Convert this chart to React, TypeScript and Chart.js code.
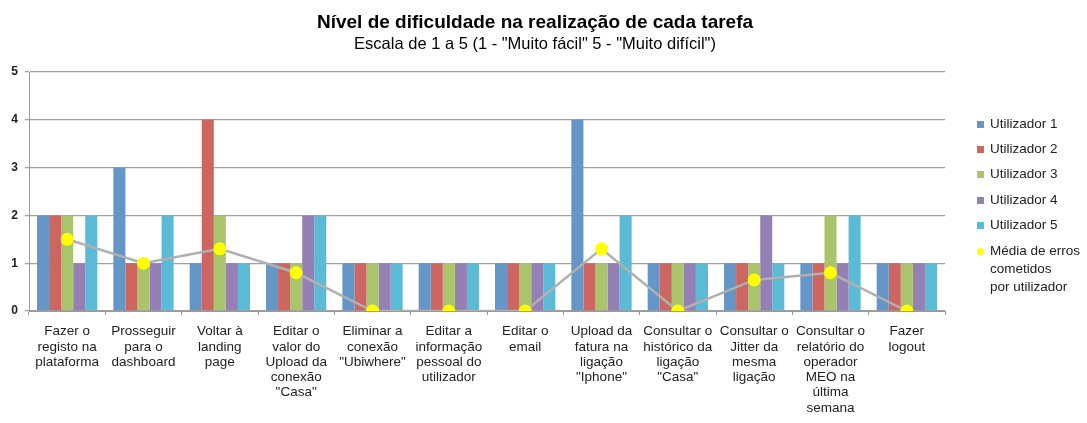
import React, { useEffect, useRef } from "react";
import { Chart, registerables } from "chart.js";

Chart.register(...registerables);

const categories: string[][] = [
  ["Fazer o", "registo na", "plataforma"],
  ["Prosseguir", "para o", "dashboard"],
  ["Voltar à", "landing", "page"],
  ["Editar o", "valor do", "Upload da", "conexão", "\"Casa\""],
  ["Eliminar a", "conexão", "\"Ubiwhere\""],
  ["Editar a", "informação", "pessoal do", "utilizador"],
  ["Editar o", "email"],
  ["Upload da", "fatura na", "ligação", "\"Iphone\""],
  ["Consultar o", "histórico da", "ligação", "\"Casa\""],
  ["Consultar o", "Jitter da", "mesma", "ligação"],
  ["Consultar o", "relatório do", "operador", "MEO na", "última", "semana"],
  ["Fazer", "logout"],
];

const utilizador1 = [2, 3, 1, 1, 1, 1, 1, 4, 1, 1, 1, 1];
const utilizador2 = [2, 1, 4, 1, 1, 1, 1, 1, 1, 1, 1, 1];
const utilizador3 = [2, 1, 2, 1, 1, 1, 1, 1, 1, 1, 2, 1];
const utilizador4 = [1, 1, 1, 2, 1, 1, 1, 1, 1, 2, 1, 1];
const utilizador5 = [2, 2, 1, 2, 1, 1, 1, 2, 1, 1, 2, 1];
const mediaErros = [1.5, 1.0, 1.3, 0.8, 0, 0, 0, 1.3, 0, 0.65, 0.8, 0];

const yTicks = [0, 1, 2, 3, 4, 5];

const seriesNames = ["Utilizador 1", "Utilizador 2", "Utilizador 3", "Utilizador 4", "Utilizador 5"];
const seriesColors = ["#6496C8", "#CD6660", "#A9C46B", "#9580B5", "#5BBAD5"];
const lineName = "Média de erros\ncometidos\npor utilizador";

const FONT = "'Liberation Sans', Arial, sans-serif";

export default function App() {
  const ref = useRef<HTMLCanvasElement | null>(null);

  useEffect(() => {
    if (!ref.current) return;
    const barData = [utilizador1, utilizador2, utilizador3, utilizador4, utilizador5];
    const chart = new Chart(ref.current, {
      type: "bar",
      data: {
        labels: categories,
        datasets: [
          {
            type: "line",
            label: lineName,
            data: mediaErros,
            borderColor: "#B0B0B0",
            borderWidth: 2.5,
            pointBackgroundColor: "#FFFF00",
            pointBorderColor: "#FFFF00",
            pointBorderWidth: 0,
            pointRadius: 6.5,
            tension: 0,
            order: 0,
          } as any,
          ...barData.map((d, i) => ({
            type: "bar" as const,
            label: seriesNames[i],
            data: d,
            backgroundColor: seriesColors[i],
            borderWidth: 0,
            categoryPercentage: 0.79,
            barPercentage: 1.0,
            order: 1,
          })),
        ],
      },
      options: {
        responsive: false,
        animation: false,
        layout: { padding: { top: 72, right: 142, left: 0, bottom: 0 } },
        plugins: {
          legend: { display: false },
          title: { display: false },
          tooltip: { enabled: false },
        },
        scales: {
          x: {
            grid: {
              display: true,
              drawOnChartArea: false,
              drawTicks: true,
              tickLength: 4,
              color: "#999999",
              offset: true,
            },
            border: { color: "#999999", width: 1 },
            ticks: {
              autoSkip: false,
              maxRotation: 0,
              minRotation: 0,
              padding: 9,
              color: "#222222",
              font: { family: FONT, size: 13.5, lineHeight: 1.13 },
            },
            afterFit: (scale: any) => {
              scale.height = 112;
            },
          },
          y: {
            min: 0,
            max: 5,
            afterBuildTicks: (scale: any) => {
              scale.ticks = yTicks.map((v) => ({ value: v }));
            },
            grid: {
              color: "#A0A0A0",
              lineWidth: 1.3,
              tickLength: 4,
            },
            border: { color: "#999999", width: 1 },
            ticks: {
              padding: 7,
              color: "#222222",
              font: { family: FONT, size: 12, weight: "bold" },
            },
            afterFit: (scale: any) => {
              scale.width = 29;
            },
          },
        },
      },
    });
    return () => chart.destroy();
  }, []);

  const legendRows = [
    { name: "Utilizador 1", color: seriesColors[0], top: 115 },
    { name: "Utilizador 2", color: seriesColors[1], top: 140 },
    { name: "Utilizador 3", color: seriesColors[2], top: 165 },
    { name: "Utilizador 4", color: seriesColors[3], top: 191 },
    { name: "Utilizador 5", color: seriesColors[4], top: 216 },
  ];

  return (
    <div style={{ position: "absolute", left: 0, top: 0, width: 1087, height: 423, background: "#fff", fontFamily: FONT }}>
      <canvas ref={ref} width={1087} height={423} style={{ position: "absolute", left: 0, top: 0 }} />
      <div style={{ position: "absolute", left: 185, width: 700, top: 11, textAlign: "center", fontWeight: "bold", fontSize: 19, lineHeight: "22px", color: "#000" }}>
        Nível de dificuldade na realização de cada tarefa
      </div>
      <div style={{ position: "absolute", left: 185, width: 700, top: 33, textAlign: "center", fontSize: 16.5, lineHeight: "20px", color: "#000" }}>
        Escala de 1 a 5 (1 - "Muito fácil" 5 - "Muito difícil")
      </div>
      {legendRows.map((r) => (
        <div key={r.name} style={{ position: "absolute", left: 977, top: r.top, fontSize: 13.5, lineHeight: "18px", color: "#222", display: "flex", alignItems: "center" }}>
          <span style={{ display: "inline-block", width: 7, height: 7, background: r.color, marginRight: 6 }} />
          <span>{r.name}</span>
        </div>
      ))}
      <div style={{ position: "absolute", left: 977, top: 242, fontSize: 13.5, lineHeight: "17.8px", color: "#222", display: "flex", alignItems: "flex-start" }}>
        <span style={{ display: "inline-block", width: 7, height: 7, borderRadius: "50%", background: "#FFFF00", marginRight: 6, marginTop: 6 }} />
        <span style={{ whiteSpace: "pre" }}>{lineName}</span>
      </div>
    </div>
  );
}
